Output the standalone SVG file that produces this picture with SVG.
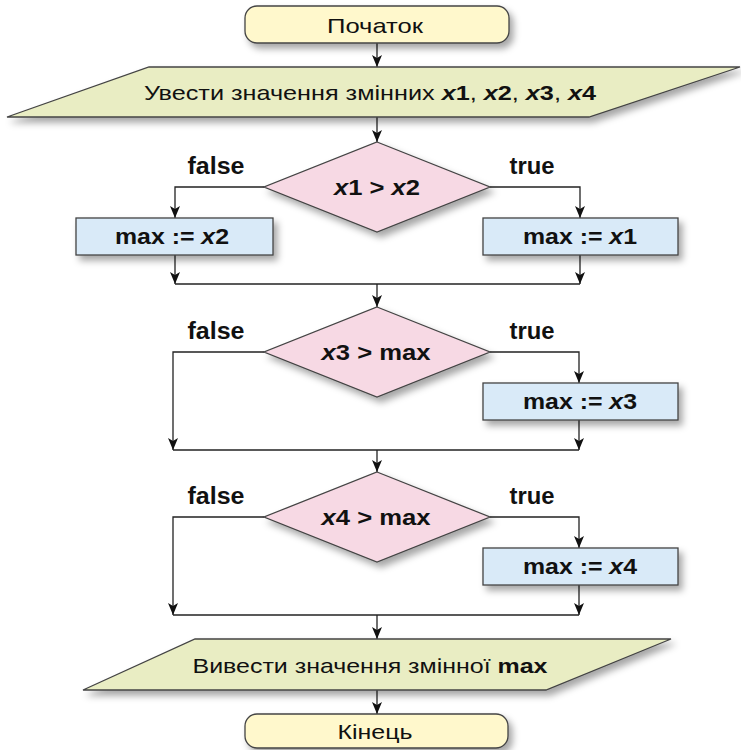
<svg xmlns="http://www.w3.org/2000/svg" width="741" height="750" viewBox="0 0 741 750">
<defs>
<filter id="sh" x="-10%" y="-20%" width="130%" height="160%">
<feDropShadow dx="4" dy="5" stdDeviation="3.5" flood-color="#000" flood-opacity="0.35"/>
</filter>
<marker id="ar" viewBox="0 0 12 10" markerWidth="12" markerHeight="10" refX="12" refY="5" orient="auto" markerUnits="userSpaceOnUse">
<path d="M0,0 L12,5 L0,10 L3,5 z" fill="#111"/>
</marker>
<style>
.term{fill:#FFF8CC;stroke:#444;stroke-width:1.3}
.io{fill:#E9EDC3;stroke:#444;stroke-width:1.3}
.dec{fill:#F7D9E4;stroke:#444;stroke-width:1.3}
.proc{fill:#D9EAF8;stroke:#444;stroke-width:1.3}
.ln{fill:none;stroke:#222;stroke-width:1.3}
.arr{fill:none;stroke:#222;stroke-width:1.3;marker-end:url(#ar)}
text{font-family:"Liberation Sans",Arial,sans-serif;fill:#111;text-anchor:middle}
.t{font-size:21px}
.b{font-size:22px;font-weight:bold}
.lbl{font-size:23px;font-weight:bold}
.i{font-style:italic}
</style>
</defs>
<g id="connectors">
<path class="arr" d="M377,43 V67"/>
<path class="arr" d="M377,117 V142"/>
<path class="arr" d="M264,187 H175 V218"/>
<path class="arr" d="M490,187 H580 V218"/>
<path class="arr" d="M175,255 V284"/>
<path class="arr" d="M580,255 V284"/>
<path class="ln" d="M175,284 H580"/>
<path class="arr" d="M377,284 V307"/>
<path class="arr" d="M264,352 H173 V450"/>
<path class="arr" d="M490,352 H579 V383"/>
<path class="arr" d="M579,420 V450"/>
<path class="ln" d="M173,450 H579"/>
<path class="arr" d="M377,450 V472"/>
<path class="arr" d="M264,517 H173 V615"/>
<path class="arr" d="M490,517 H579 V548"/>
<path class="arr" d="M579,585 V615"/>
<path class="ln" d="M173,615 H579"/>
<path class="arr" d="M377,615 V639"/>
<path class="arr" d="M377,690 V714"/>
</g>
<g id="start">
<rect class="term" filter="url(#sh)" x="245" y="6" width="264" height="37" rx="12"/>
<text class="t" x="375" y="33" textLength="96" lengthAdjust="spacingAndGlyphs">Початок</text>
</g>
<g id="input">
<polygon class="io" filter="url(#sh)" points="149,67 740,67 589,117 7,117"/>
<text class="t" x="370" y="100" textLength="452" lengthAdjust="spacingAndGlyphs">Увести значення змінних <tspan font-weight="bold" font-style="italic">x</tspan><tspan font-weight="bold">1</tspan>, <tspan font-weight="bold" font-style="italic">x</tspan><tspan font-weight="bold">2</tspan>, <tspan font-weight="bold" font-style="italic">x</tspan><tspan font-weight="bold">3</tspan>, <tspan font-weight="bold" font-style="italic">x</tspan><tspan font-weight="bold">4</tspan></text>
</g>
<g id="dec1">
<polygon class="dec" filter="url(#sh)" points="377,142 490,187 377,232 264,187"/>
<text class="b" x="377" y="195" textLength="86" lengthAdjust="spacingAndGlyphs"><tspan class="i">x</tspan>1 &gt; <tspan class="i">x</tspan>2</text>
<text class="lbl" x="216" y="174" textLength="57" lengthAdjust="spacingAndGlyphs">false</text>
<text class="lbl" x="532" y="174" textLength="45" lengthAdjust="spacingAndGlyphs">true</text>
</g>
<g id="box1f">
<rect class="proc" filter="url(#sh)" x="76" y="218" width="197" height="37"/>
<text class="b" x="172" y="244" textLength="114" lengthAdjust="spacingAndGlyphs">max := <tspan class="i">x</tspan>2</text>
</g>
<g id="box1t">
<rect class="proc" filter="url(#sh)" x="483" y="218" width="195" height="37"/>
<text class="b" x="580" y="244" textLength="114" lengthAdjust="spacingAndGlyphs">max := <tspan class="i">x</tspan>1</text>
</g>
<g id="dec2">
<polygon class="dec" filter="url(#sh)" points="377,307 490,352 377,397 264,352"/>
<text class="b" x="376" y="360" textLength="109" lengthAdjust="spacingAndGlyphs"><tspan class="i">x</tspan>3 &gt; max</text>
<text class="lbl" x="216" y="339" textLength="57" lengthAdjust="spacingAndGlyphs">false</text>
<text class="lbl" x="532" y="339" textLength="45" lengthAdjust="spacingAndGlyphs">true</text>
</g>
<g id="box2">
<rect class="proc" filter="url(#sh)" x="483" y="383" width="195" height="37"/>
<text class="b" x="580" y="409" textLength="114" lengthAdjust="spacingAndGlyphs">max := <tspan class="i">x</tspan>3</text>
</g>
<g id="dec3">
<polygon class="dec" filter="url(#sh)" points="377,472 490,517 377,562 264,517"/>
<text class="b" x="376" y="525" textLength="109" lengthAdjust="spacingAndGlyphs"><tspan class="i">x</tspan>4 &gt; max</text>
<text class="lbl" x="216" y="504" textLength="57" lengthAdjust="spacingAndGlyphs">false</text>
<text class="lbl" x="532" y="504" textLength="45" lengthAdjust="spacingAndGlyphs">true</text>
</g>
<g id="box3">
<rect class="proc" filter="url(#sh)" x="483" y="548" width="195" height="37"/>
<text class="b" x="580" y="574" textLength="114" lengthAdjust="spacingAndGlyphs">max := <tspan class="i">x</tspan>4</text>
</g>
<g id="output">
<polygon class="io" filter="url(#sh)" points="195,639 671,639 546,690 83,690"/>
<text class="t" x="370" y="673" textLength="355" lengthAdjust="spacingAndGlyphs">Вивести значення змінної <tspan font-weight="bold">max</tspan></text>
</g>
<g id="end">
<rect class="term" filter="url(#sh)" x="245" y="714" width="263" height="34" rx="12"/>
<text class="t" x="375" y="739" textLength="75" lengthAdjust="spacingAndGlyphs">Кінець</text>
</g>
</svg>
